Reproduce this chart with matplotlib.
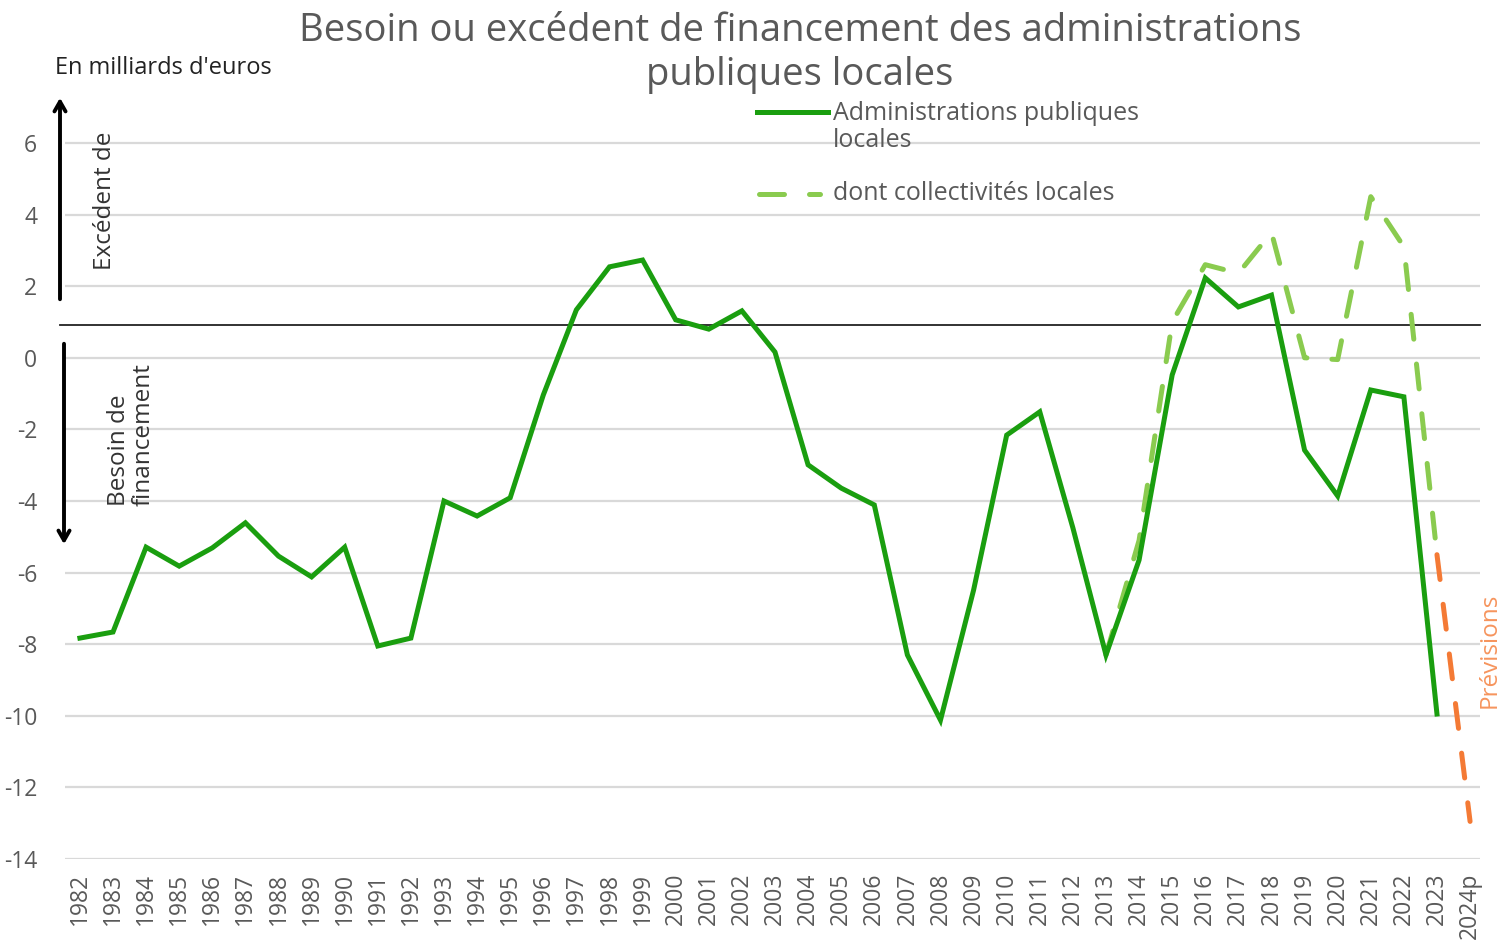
import matplotlib
matplotlib.use("Agg")
import matplotlib.pyplot as plt
from matplotlib.lines import Line2D

years = [str(y) for y in range(1982, 2024)] + ["2024p"]
apul = [-7.83, -7.66, -5.29, -5.82, -5.31, -4.61, -5.54, -6.12, -5.29, -8.05,
        -7.83, -4.0, -4.42, -3.91, -1.04, 1.34, 2.54, 2.73, 1.06, 0.80,
        1.31, 0.16, -2.99, -3.64, -4.11, -8.3, -10.12, -6.49, -2.16, -1.51,
        -4.75, -8.3, -5.65, -0.48, 2.23, 1.42, 1.75, -2.58, -3.86, -0.9,
        -1.09, -9.95]
coll_years = ["2013", "2014", "2015", "2016", "2017", "2018", "2019", "2020", "2021", "2022", "2023"]
coll = [-8.3, -5.1, 1.0, 2.6, 2.36, 3.5, 0.0, -0.05, 4.5, 3.1, -5.5]
prev_years = ["2023", "2024p"]
prev = [-5.5, -12.95]
ref_line = 0.92

DARK = "#1a9e0f"
LIGHT = "#8acb4f"
ORANGE = "#f47a35"
GRAY = "#595959"
FONT = "Open Sans"

plt.rcParams['font.family'] = [FONT, 'DejaVu Sans']
plt.rcParams['axes.unicode_minus'] = False

W, H = 1501, 947
fig = plt.figure(figsize=(W / 100, H / 100), dpi=100)
ax = fig.add_axes([65 / W, (H - 859) / H, 1415 / W, (859 - 100) / H])

idx = {y: i for i, y in enumerate(years)}
x_all = list(range(len(years)))
DASH = (5, 5)
ax.plot(x_all[:len(apul)], apul, color=DARK, lw=3.6, solid_joinstyle='miter', zorder=4)
ax.plot([idx[y] for y in coll_years], coll, color=LIGHT, lw=3.6, dashes=DASH,
        dash_capstyle='round', zorder=3)
ax.plot([idx[y] for y in prev_years], prev, color=ORANGE, lw=3.6, dashes=DASH,
        dash_capstyle='round', zorder=3)

ax.set_xlim(-0.45, 42.3)
ax.set_ylim(-14, 7.2)
ax.set_yticks(range(-14, 7, 2))
ax.set_xticks(x_all)
ax.set_xticklabels(years, rotation=90, va='top')
ax.grid(axis='y', color='#d9d9d9', lw=1.6)
ax.grid(axis='x', visible=False)
ax.set_axisbelow(True)
for s in ax.spines.values():
    s.set_visible(False)
ax.tick_params(length=0, labelsize=16.5, colors=GRAY, pad=10)
ax.tick_params(axis='y', pad=20)

# reference line at ~0.92
ax.plot([-0.6, 42.3], [ref_line, ref_line], color='#222222', lw=1.3, clip_on=False, zorder=2)

# arrows
def fp(x, y):
    return (x, H - y)
ax.annotate('', xy=fp(60, 95), xytext=fp(60, 302), xycoords='figure pixels',
            textcoords='figure pixels',
            arrowprops=dict(arrowstyle='->,head_length=0.7,head_width=0.4', lw=2.8, color='black'))
ax.annotate('', xy=fp(64, 547), xytext=fp(64, 341), xycoords='figure pixels',
            textcoords='figure pixels',
            arrowprops=dict(arrowstyle='->,head_length=0.7,head_width=0.4', lw=2.8, color='black'))

fig.text(105 / W, (H - 270) / H, "Excédent de", rotation=90, fontsize=17.5, color='#333333',
         ha='center', va='bottom')
fig.text(131 / W, (H - 506) / H, "Besoin de\nfinancement", rotation=90, fontsize=17.5, color='#333333',
         ha='center', va='bottom', multialignment='left', linespacing=1.05)

fig.text(55 / W, (H - 68) / H, "En milliards d'euros", fontsize=17, color='#222222',
         ha='left', va='center')

fig.text(800 / W, (H - 53) / H, "Besoin ou excédent de financement des administrations\npubliques locales",
         fontsize=27.5, color=GRAY, ha='center', va='center', linespacing=1.22)

# legend
fig.add_artist(Line2D([757 / W, 828 / W], [(H - 112) / H] * 2, color=DARK, lw=3.6))
fig.text(833 / W, (H - 127) / H, "Administrations publiques\nlocales", fontsize=18, color=GRAY,
         ha='left', va='center', linespacing=1.15)
fig.add_artist(Line2D([759 / W, 820 / W], [(H - 194) / H] * 2, color=LIGHT, lw=3.6, dashes=DASH,
                      dash_capstyle='round'))
fig.text(833 / W, (H - 194) / H, "dont collectivités locales", fontsize=18, color=GRAY,
         ha='left', va='center')

fig.text(1490 / W, (H - 650) / H, "Prévisions", rotation=90, fontsize=17.5, color=ORANGE,
         ha='center', va='center', alpha=0.8)

fig.savefig("out.png", dpi=100)
